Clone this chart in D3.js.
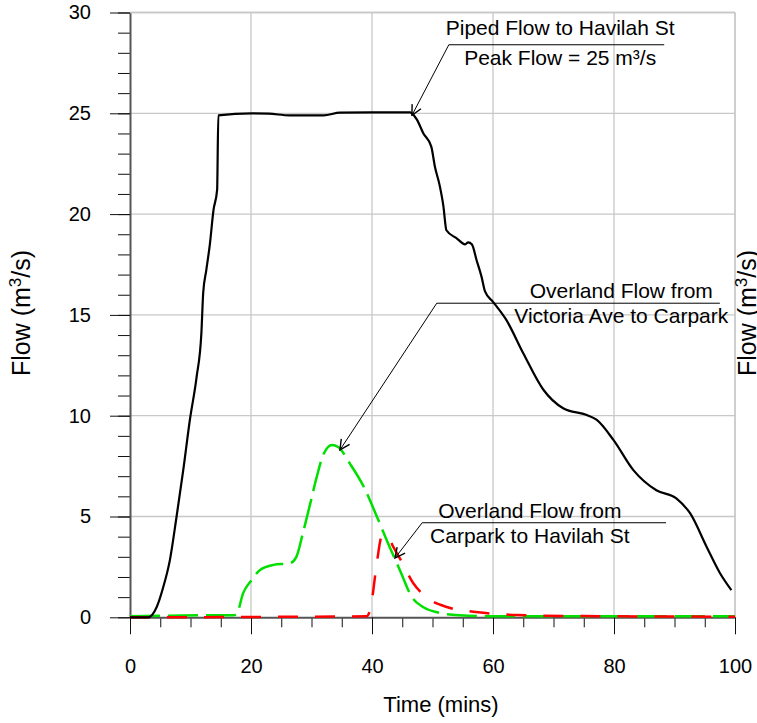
<!DOCTYPE html>
<html>
<head>
<meta charset="utf-8">
<script src="https://cdn.jsdelivr.net/npm/d3@7"></script>
<style>
  body { margin: 0; background: #fff; }
  svg { display: block; font-family: "Liberation Sans", Arial, sans-serif; }
</style>
</head>
<body>
<div class="container"></div>
<script>
// Time (mins) / Flow (m3/s)
const pipedTime = [0, 3, 4.4, 5.5, 6.6, 7.7, 8.8, 9.9, 11, 11.8, 12.1, 12.6, 13.2, 13.8, 14.4, 14.6, 20.1, 23, 26.4, 32, 34.7, 40, 46.3, 46.6, 47.4, 48.5, 49.8, 50.4, 51.2, 51.8, 52.3, 54, 55.4, 55.9, 56.5, 57.3, 58.1, 58.7, 60, 62.2, 65, 68.3, 71.6, 75.5, 77.1, 79.9, 83.2, 87, 90.3, 92.6, 95.3, 97.5, 99.4];
const pipedFlow = [0, 0, 0.5, 1.5, 2.85, 5.0, 7.3, 9.8, 11.9, 14.1, 16.1, 17.2, 18.5, 20.2, 21.2, 24.9, 25.0, 24.98, 24.9, 24.9, 25.03, 25.05, 25.05, 25.0, 24.7, 24.0, 23.35, 22.35, 21.4, 20.4, 19.2, 18.8, 18.5, 18.6, 18.5, 17.7, 16.9, 16.15, 15.65, 14.75, 13.1, 11.3, 10.37, 10.03, 9.8, 8.8, 7.3, 6.3, 5.9, 5.15, 3.5, 2.2, 1.35];

const victoriaTime = [0, 15, 17, 17.6, 18.7, 20.1, 21.5, 23.7, 26.4, 27.5, 28.6, 29.8, 30.9, 32, 33.4, 34.4, 36.4, 38.6, 40.8, 42.4, 44.6, 46.6, 48.5, 51.2, 54.5, 60, 100];
const victoriaFlow = [0.05, 0.1, 0.1, 0.15, 1.2, 1.85, 2.35, 2.6, 2.68, 3.0, 4.2, 5.65, 7.0, 8.1, 8.55, 8.45, 7.6, 6.5, 5.0, 3.85, 2.35, 1.0, 0.5, 0.22, 0.1, 0.05, 0.05];

const carparkTime = [0, 39.1, 39.5, 39.9, 40.8, 41.6, 42.4, 43.5, 44.9, 46.8, 49, 52.5, 56, 60, 64, 75, 100];
const carparkFlow = [0, 0.05, 0.2, 0.7, 2.7, 4.0, 4.08, 3.5, 2.76, 1.7, 1.0, 0.5, 0.3, 0.18, 0.11, 0.06, 0.03];

const xTicks = [0, 20, 40, 60, 80, 100];
const yTicks = [0, 5, 10, 15, 20, 25, 30];

const w = 757;
const h = 723;

const x = d3.scaleLinear().domain([0, 100]).range([130, 735]);
const y = d3.scaleLinear().domain([0, 30]).range([617.3, 12.5]);

const svg = d3.select(".container")
  .append("svg")
  .attr("width", w)
  .attr("height", h);

// grid
svg.append("g")
  .selectAll("line")
  .data(xTicks.slice(1))
  .enter()
  .append("line")
  .attr("x1", (d) => x(d))
  .attr("x2", (d) => x(d))
  .attr("y1", y(0))
  .attr("y2", y(30))
  .attr("stroke", "#c8c8c8")
  .attr("stroke-width", 1.3);

svg.append("g")
  .selectAll("line")
  .data(yTicks.slice(1))
  .enter()
  .append("line")
  .attr("x1", x(0))
  .attr("x2", x(100))
  .attr("y1", (d) => y(d))
  .attr("y2", (d) => y(d))
  .attr("stroke", "#c8c8c8")
  .attr("stroke-width", 1.3);

// minor ticks
const minorX = d3.axisBottom(x).tickValues(d3.range(0, 101, 5)).tickSize(10).tickFormat("");
const minorY = d3.axisLeft(y).tickValues(d3.range(0, 31, 1)).tickSize(12).tickFormat("");

svg.append("g")
  .attr("transform", "translate(0," + y(0) + ")")
  .call(minorX)
  .call((g) => g.select(".domain").remove());

svg.append("g")
  .attr("transform", "translate(" + x(0) + ",0)")
  .call(minorY)
  .call((g) => g.select(".domain").remove());

// major axes
const xAxis = d3.axisBottom(x).tickValues(xTicks).tickSize(17).tickPadding(25).tickSizeOuter(0);
const yAxis = d3.axisLeft(y).tickValues(yTicks).tickSize(20).tickPadding(19).tickSizeOuter(0);

svg.append("g")
  .attr("id", "x-axis")
  .attr("transform", "translate(0," + y(0) + ")")
  .call(xAxis)
  .call((g) => g.select(".domain").attr("stroke", "#555").attr("stroke-width", 2))
  .call((g) => g.selectAll("text").attr("font-size", 20).attr("fill", "#000").attr("font-family", "Liberation Sans, Arial, sans-serif"));

svg.append("g")
  .attr("id", "y-axis")
  .attr("transform", "translate(" + x(0) + ",0)")
  .call(yAxis)
  .call((g) => g.select(".domain").attr("stroke", "#555").attr("stroke-width", 2))
  .call((g) => g.selectAll("text").attr("font-size", 20).attr("fill", "#000").attr("font-family", "Liberation Sans, Arial, sans-serif"));

svg.selectAll(".tick line").attr("stroke", "#111");

// top and right frame
svg.append("line")
  .attr("x1", x(0)).attr("x2", x(100))
  .attr("y1", y(30)).attr("y2", y(30))
  .attr("stroke", "#c8c8c8").attr("stroke-width", 1.3);
svg.append("line")
  .attr("x1", x(100)).attr("x2", x(100))
  .attr("y1", y(0)).attr("y2", y(30))
  .attr("stroke", "#c8c8c8").attr("stroke-width", 1.3);

// series
const line = d3.line()
  .x((d) => x(d[0]))
  .y((d) => y(d[1]))
  .curve(d3.curveMonotoneX);

const piped = d3.zip(pipedTime, pipedFlow);
const victoria = d3.zip(victoriaTime, victoriaFlow);
const carpark = d3.zip(carparkTime, carparkFlow);

svg.append("path")
  .datum(victoria)
  .attr("d", line)
  .attr("fill", "none")
  .attr("stroke", "#00e000")
  .attr("stroke-width", 2.5)
  .attr("stroke-dasharray", "30,8");

svg.append("path")
  .datum(carpark)
  .attr("d", line)
  .attr("fill", "none")
  .attr("stroke", "#ff0000")
  .attr("stroke-width", 2.5)
  .attr("stroke-dasharray", "20,17");

svg.append("path")
  .datum(piped)
  .attr("d", line)
  .attr("fill", "none")
  .attr("stroke", "#000")
  .attr("stroke-width", 2.2);

// arrow head
svg.append("defs")
  .append("marker")
  .attr("id", "arrow")
  .attr("viewBox", "0 0 12 12")
  .attr("refX", 11)
  .attr("refY", 6)
  .attr("markerWidth", 12)
  .attr("markerHeight", 12)
  .attr("markerUnits", "userSpaceOnUse")
  .attr("orient", "auto")
  .append("path")
  .attr("d", "M1,1 L11,6 L1,11")
  .attr("fill", "none")
  .attr("stroke", "#000")
  .attr("stroke-width", 1.4);

// annotations: tip, elbow, underline end (data units), label lines
const notes = [
  { tip: [46.6, 24.9], elbow: [52.7, 28.4], end: 88.3, cx: 71.1, lines: ["Piped Flow to Havilah St", "Peak Flow = 25 m³/s"], base: [28.88, 27.39] },
  { tip: [34.7, 8.3], elbow: [50.7, 15.58], end: 97.5, cx: 81.2, lines: ["Overland Flow from", "Victoria Ave to Carpark"], base: [15.84, 14.6] },
  { tip: [43.8, 2.94], elbow: [48.3, 4.69], end: 88.6, cx: 66.1, lines: ["Overland Flow from", "Carpark to Havilah St"], base: [4.93, 3.69] }
];

notes.forEach((n) => {
  svg.append("line")
    .attr("x1", x(n.elbow[0])).attr("y1", y(n.elbow[1]))
    .attr("x2", x(n.end)).attr("y2", y(n.elbow[1]))
    .attr("stroke", "#000").attr("stroke-width", 1);
  svg.append("line")
    .attr("x1", x(n.elbow[0])).attr("y1", y(n.elbow[1]))
    .attr("x2", x(n.tip[0])).attr("y2", y(n.tip[1]))
    .attr("stroke", "#000").attr("stroke-width", 1)
    .attr("marker-end", "url(#arrow)");
  n.lines.forEach((t, i) => {
    svg.append("text")
      .attr("x", x(n.cx))
      .attr("y", y(n.base[i]))
      .attr("text-anchor", "middle")
      .attr("font-size", 21)
      .attr("fill", "#000")
      .text(t);
  });
});

// axis titles
svg.append("text")
  .attr("x", 441)
  .attr("y", 712)
  .attr("text-anchor", "middle")
  .attr("font-size", 22)
  .text("Time (mins)");

function flowTitle(tx) {
  const t = svg.append("text")
    .attr("transform", "translate(" + tx + ",313) rotate(-90)")
    .attr("text-anchor", "middle")
    .attr("font-size", 25);
  t.append("tspan").text("Flow (m");
  t.append("tspan").attr("font-size", 17).attr("dy", -9).text("3");
  t.append("tspan").attr("dy", 9).text("/s)");
}
flowTitle(30);
flowTitle(756);
</script>
</body>
</html>
